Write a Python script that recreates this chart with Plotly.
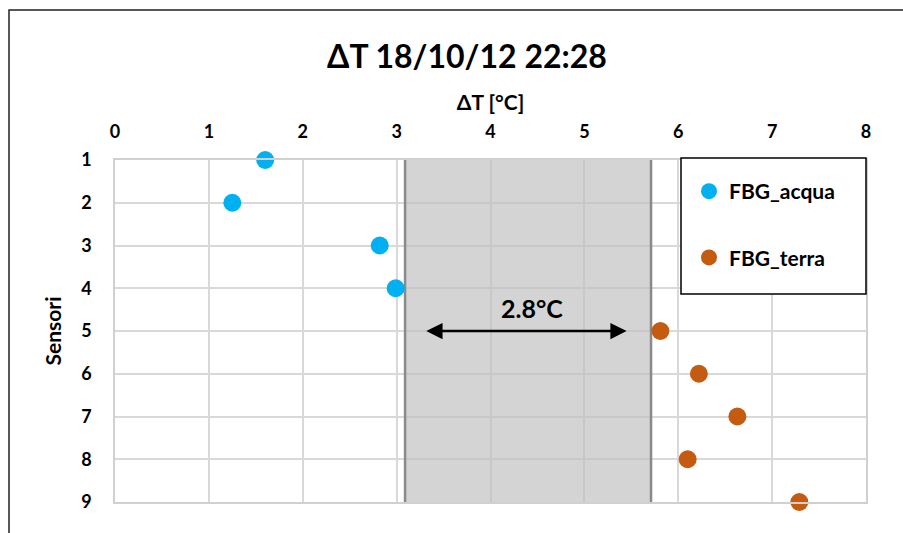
import plotly.graph_objects as go

# ---- data ----
acqua_sensors = [1, 2, 3, 4]
acqua_dT = [1.60, 1.25, 2.82, 2.99]
terra_sensors = [5, 6, 7, 8, 9]
terra_dT = [5.81, 6.22, 6.63, 6.10, 7.29]
x_ticks = [0, 1, 2, 3, 4, 5, 6, 7, 8]
y_ticks = [1, 2, 3, 4, 5, 6, 7, 8, 9]
band_x = [3.09, 5.71]
arrow_x = [3.30, 5.45]
arrow_y = 5
gap_label = "2.8°C"
gap_label_pos = [4.44, 4.46]

FONT = "Lato"
W, H = 903, 533
ML, MR, MT, MB = 115, 37, 160, 31
PW, PH = W - ML - MR, H - MT - MB


def px_x(p):
    return (p - ML) / PW


def px_y(p):
    return (H - MB - p) / PH


fig = go.Figure()
fig.add_trace(go.Scatter(
    x=acqua_dT, y=acqua_sensors, mode="markers", name="FBG_acqua",
    legendgroup="a",
    marker=dict(color="#00b0f0", size=18), cliponaxis=False))
fig.add_trace(go.Scatter(
    x=terra_dT, y=terra_sensors, mode="markers", name="FBG_terra",
    legendgroup="b",
    marker=dict(color="#c55a11", size=18), cliponaxis=False))

# grey band
fig.add_shape(type="rect", xref="x", yref="y", x0=band_x[0], x1=band_x[1],
              y0=y_ticks[0], y1=y_ticks[-1], line=dict(width=0),
              fillcolor="rgba(192,192,192,0.68)", layer="between")
for bx in band_x:
    fig.add_shape(type="line", xref="x", yref="y", x0=bx, x1=bx,
                  y0=y_ticks[0], y1=y_ticks[-1],
                  line=dict(color="#8a8a8a", width=2.5), layer="between")

# double arrow
fig.add_annotation(x=arrow_x[1], y=arrow_y, ax=arrow_x[0], ay=arrow_y,
                   xref="x", yref="y", axref="x", ayref="y", text="",
                   showarrow=True, arrowside="end+start", arrowhead=2,
                   startarrowhead=2, arrowwidth=2.5, arrowsize=1.3,
                   startarrowsize=1.3, arrowcolor="black", standoff=0,
                   startstandoff=0)
fig.add_annotation(x=gap_label_pos[0], y=gap_label_pos[1], xref="x", yref="y",
                   text=gap_label, showarrow=False,
                   font=dict(family=FONT, size=25, color="black", weight=700))

# legend box
fig.add_shape(type="rect", xref="paper", yref="paper",
              x0=px_x(681), x1=px_x(866), y0=px_y(294), y1=px_y(158),
              line=dict(color="black", width=1.5), fillcolor="white",
              layer="above")

# outer chart frame
fig.add_shape(type="rect", xref="paper", yref="paper",
              x0=px_x(9), x1=px_x(950), y0=px_y(600), y1=px_y(10),
              line=dict(color="#222222", width=1.5), fillcolor="rgba(0,0,0,0)",
              layer="below")

axis_font = dict(family=FONT, size=18, color="black", weight=700)
fig.update_layout(
    width=W, height=H,
    margin=dict(l=ML, r=MR, t=MT, b=MB, autoexpand=False),
    paper_bgcolor="white", plot_bgcolor="white",
    title=dict(text="ΔT 18/10/12 22:28", x=467 / W, xanchor="center",
               y=1 - 57 / H, yanchor="middle",
               font=dict(family=FONT, size=32, color="black", weight=700)),
    xaxis=dict(side="top", range=[x_ticks[0], x_ticks[-1]], tickvals=x_ticks,
               showgrid=True, gridcolor="#d9d9d9", gridwidth=1.5,
               zeroline=False, showline=True, linecolor="#d0d0d0",
               linewidth=1.5, mirror=True, ticks="",
               tickfont=axis_font, ticklabelstandoff=13,
               title=dict(text="ΔT [°C]", standoff=4,
                          font=dict(family=FONT, size=21, color="black",
                                    weight=700))),
    yaxis=dict(range=[y_ticks[-1], y_ticks[0]], tickvals=y_ticks,
               showgrid=True, gridcolor="#d9d9d9", gridwidth=1.5,
               zeroline=False, showline=True, linecolor="#d0d0d0",
               linewidth=1.5, mirror=True, ticks="",
               tickfont=axis_font, ticklabelstandoff=18,
               title=dict(text="Sensori", standoff=14,
                          font=dict(family=FONT, size=21, color="black",
                                    weight=700))),
    legend=dict(x=px_x(689), xanchor="left", y=px_y(171), yanchor="top",
                bgcolor="rgba(0,0,0,0)", borderwidth=0, tracegroupgap=36,
                font=dict(family=FONT, size=21, color="black", weight=700)),
    showlegend=True,
)

fig.write_html("out.html")
